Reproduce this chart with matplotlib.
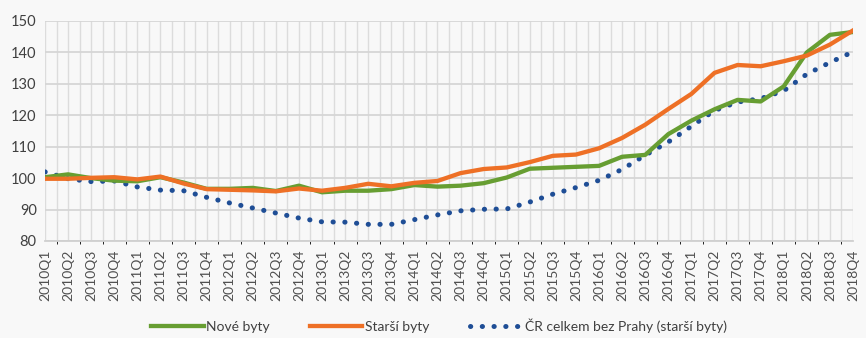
import matplotlib
matplotlib.use("Agg")
import matplotlib.pyplot as plt
import numpy as np
from matplotlib.lines import Line2D

plt.rcParams['font.family'] = ['Lato', 'DejaVu Sans']

quarters = [f"{y}Q{q}" for y in range(2010, 2019) for q in range(1, 5)]

nove = [100.3, 101.2, 100.0, 99.2, 99.0, 100.3, 98.6, 96.6, 96.6, 96.9, 95.9, 97.6,
        95.5, 96.0, 96.0, 96.5, 97.8, 97.3, 97.6, 98.4, 100.2, 103.0, 103.3, 103.6,
        103.9, 106.8, 107.4, 114.0, 118.3, 121.9, 124.9, 124.4, 129.2, 140.0, 145.6, 146.5]

starsi = [99.8, 99.8, 100.1, 100.3, 99.6, 100.5, 98.3, 96.5, 96.3, 96.1, 95.8, 96.7,
          96.0, 96.9, 98.2, 97.4, 98.5, 99.1, 101.6, 102.9, 103.4, 105.1, 107.1, 107.5,
          109.5, 112.8, 117.0, 122.0, 126.8, 133.5, 136.0, 135.6, 137.2, 139.0, 142.5, 147.0]

cr = [102.0, 99.8, 98.9, 99.1, 97.2, 96.2, 96.0, 93.9, 92.1, 90.5, 88.9, 87.3,
      86.1, 86.0, 85.3, 85.3, 86.8, 88.3, 89.6, 90.1, 90.2, 92.4, 94.9, 97.0,
      99.3, 102.8, 107.3, 111.5, 116.5, 121.5, 124.2, 125.3, 127.8, 133.1, 136.8, 140.2]

labels = ["Nové byty", "Starší byty", "ČR celkem bez Prahy (starší byty)"]
c_green = "#679E32"
c_orange = "#EE7026"
c_blue = "#1F4E96"
bg = "#f8f8f8"

fig = plt.figure(figsize=(8.66, 3.38), dpi=100, facecolor=bg)
ax = fig.add_axes([45/866, 1-241/338, (853-45)/866, (241-21)/338], facecolor=bg)

x = np.arange(len(quarters))
ax.set_xlim(0, len(quarters)-1)
ax.set_ylim(80, 150)
ax.set_yticks(range(80, 151, 10))
ax.set_xticks(x)
ax.set_xticklabels(quarters, rotation=90, fontsize=10, color="#505050")
ax.set_xticks(np.arange(0.5, len(quarters)-1, 1), minor=True)
ax.tick_params(axis='both', length=0, colors="#404040")
ax.tick_params(axis='x', labelcolor="#505050")
ax.tick_params(axis='y', labelsize=10.5, pad=6)
ax.tick_params(axis='x', pad=6)
ax.grid(True, which='both', axis='x', color="#dcdcdc", lw=1)
ax.grid(True, which='major', axis='y', color="#d6d6d6", lw=1.3)
for s in ['top', 'right', 'left']:
    ax.spines[s].set_visible(False)
ax.spines['bottom'].set_color("#d0d0d0")
ax.spines['bottom'].set_linewidth(1.3)
ax.set_axisbelow(True)

ax.plot(x, cr, color=c_blue, lw=3.6, linestyle=(0, (0.05, 2.3)),
        dash_capstyle='round', solid_capstyle='round', label=labels[2], zorder=3)
ax.plot(x, nove, color=c_green, lw=3.1, label=labels[0], zorder=4)
ax.plot(x, starsi, color=c_orange, lw=3.1, label=labels[1], zorder=5)

handles = [Line2D([], [], color=c_green, lw=3.1),
           Line2D([], [], color=c_orange, lw=3.1),
           Line2D([], [], color=c_blue, lw=3.6, linestyle=(0, (0.05, 2.3)), dash_capstyle='round')]
leg = fig.legend(handles, labels, loc='center', bbox_to_anchor=(439/866, 1-326/338),
                 ncol=3, frameon=False, fontsize=10, handlelength=3.75,
                 handletextpad=0.2, columnspacing=2.9)
for t in leg.get_texts():
    t.set_color("#404040")

fig.savefig("out.png", dpi=100, facecolor=bg)
